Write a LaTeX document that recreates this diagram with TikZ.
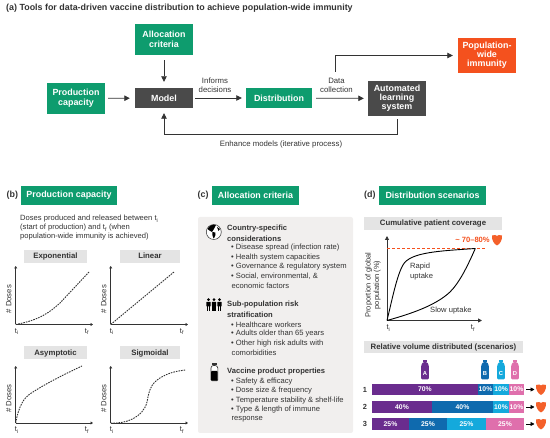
\documentclass[tikz,border=0pt]{standalone}
\usepackage{fontspec}
\setmainfont{Liberation Sans}
\usetikzlibrary{arrows.meta}
\definecolor{grn}{HTML}{0E9C6E}
\definecolor{drk}{HTML}{4A4A4A}
\definecolor{org}{HTML}{F4511E}
\definecolor{hdr}{HTML}{E4E4E4}
\definecolor{pnl}{HTML}{F1EFEE}
\definecolor{txt}{HTML}{333333}
\definecolor{pur}{HTML}{6A2C8E}
\definecolor{blu}{HTML}{0F6AAE}
\definecolor{cya}{HTML}{14A9DC}
\definecolor{pnk}{HTML}{DF6FAC}
\definecolor{shd}{HTML}{F4602A}
\newcommand{\fs}[1]{\fontsize{#1}{#1}\selectfont}
\newcommand{\sbs}[1]{\textsubscript{#1}}
\tikzset{
 box/.style={inner sep=0pt,align=center,text=white,font=\fs{8.9}\bfseries},
 grnbox/.style={box,fill=grn},
 drkbox/.style={box,fill=drk},
 orgbox/.style={box,fill=org},
 conn/.style={draw=txt,line width=0.8pt,-{Triangle[length=5.5pt,width=5.5pt]}},
 lbl/.style={inner sep=0pt,text=txt,font=\fs{7.8},align=center},
 tit/.style={inner sep=0pt,text=txt,font=\fs{8.9}\bfseries,anchor=west},
 hd/.style={fill=hdr,inner sep=0pt,text=txt,font=\fs{7.8}\bfseries,text height=5.8pt,text depth=1.6pt},
 ax/.style={draw=txt,line width=0.9pt,-{Triangle[length=2.5pt,width=3pt]}},
 dots/.style={draw=txt,line width=0.9pt,dash pattern=on 1.6pt off 1pt},
 tick/.style={inner sep=0pt,text=txt,font=\fs{7.6}},
 ylab/.style={inner sep=0pt,text=txt,font=\fs{7.7},rotate=90,align=center},
 cl/.style={inner sep=0pt,anchor=west,text=txt,font=\fs{7.6}},
 ch/.style={inner sep=0pt,anchor=west,text=txt,font=\fs{7.6}\bfseries},
 seg/.style={inner sep=0pt,text=white,font=\fs{6.8}\bfseries},
 shieldpic/.pic={\fill[shd] (-5,-4.5) .. controls (-2.5,-5.5) and (-1,-5) .. (0,-4) .. controls (1,-5) and (2.5,-5.5) .. (5,-4.5) .. controls (5.5,0) and (3,4) .. (0,5.5) .. controls (-3,4) and (-5.5,0) .. (-5,-4.5) -- cycle;},
 bottlepic/.pic={\fill[pic actions] (-2.4,-10) rectangle (2.4,-8);
   \fill[pic actions,rounded corners=1.2pt] (-2,-8) -- (-3.8,-5) -- (-3.8,9.5) -- (3.8,9.5) -- (3.8,-5) -- (2,-8) -- cycle;}
}
\begin{document}
\begin{tikzpicture}[x=1pt,y=-1pt]
\useasboundingbox (0,0) rectangle (550,438);
% ---------- panel a
\node[tit] (ta) at (6,8.5) {(a) Tools for data-driven vaccine distribution to achieve population-wide immunity};
\node[grnbox,minimum width=58pt,minimum height=31pt] (alloc) at (164,39.5) {Allocation\\[1pt]criteria};
\node[grnbox,minimum width=58pt,minimum height=31pt] (prod) at (76,98.5) {Production\\[1pt]capacity};
\node[drkbox,minimum width=58pt,minimum height=20pt] (model) at (164,98) {Model};
\node[grnbox,minimum width=66pt,minimum height=20pt] (dist) at (279,98) {Distribution};
\node[drkbox,minimum width=58pt,minimum height=35pt] (auto) at (397,98.5) {Automated\\learning\\system};
\node[orgbox,minimum width=58pt,minimum height=35pt] (pop) at (487,55.5) {Population-\\wide\\immunity};
\coordinate (dc) at (335,72);
\coordinate (lp) at (397,134.5);
\coordinate (lq) at (164,134.5);
\draw[conn,shorten <=3pt,shorten >=5pt] (prod) -- (model);
\draw[conn,shorten <=5pt,shorten >=6pt] (alloc) -- (model);
\draw[conn,shorten <=2pt,shorten >=4pt] (model) -- (dist);
\draw[conn,shorten <=4pt,shorten >=4pt] (dist) -- (auto);
\draw[conn,shorten >=5pt] (dc) |- (pop.west);
\draw[conn,shorten <=3pt,shorten >=5pt] (auto.south) -- (lp) -- (lq) -- (model.south);
\node[lbl] (inf) at (215,85.5) {Informs\\[1.5pt]decisions};
\node[lbl] (dat) at (336.5,85.5) {Data\\[1.5pt]collection};
\node[lbl] (enh) at (281,144.5) {Enhance models (iterative process)};
% ---------- panel b
\node[tit] (tb) at (6.5,195) {(b)};
\node[grnbox,minimum width=96pt,minimum height=19pt] (bb) at (69,195.5) {Production capacity};
\node[cl] (b1) at (20,219) {Doses produced and released between t\sbs{i}};
\node[cl] (b2) at (20,228) {(start of production) and t\sbs{f} (when};
\node[cl] (b3) at (20,237) {population-wide immunity is achieved)};
\node[hd,minimum width=63pt,minimum height=13pt] (h1) at (55.5,256.5) {Exponential};
\node[hd,minimum width=60pt,minimum height=13pt] (h2) at (150,256.5) {Linear};
\node[hd,minimum width=63pt,minimum height=13pt] (h3) at (55.5,353) {Asymptotic};
\node[hd,minimum width=60pt,minimum height=13pt] (h4) at (150,353) {Sigmoidal};
\foreach \nm/\xo/\xe/\yt/\yb/\xf in {p/15.7/93/266/324.5/87, q/110.7/188/266/324.5/182, r/15.7/93/366/423/87, s/110.7/188/366/423/182}{
  \coordinate (\nm o) at (\xo,\yb);
  \coordinate (\nm t) at (\xo,\yt);
  \coordinate (\nm e) at (\xe,\yb);
  \draw[ax] (\nm o) -- (\nm t);
  \draw[ax] (\nm o) -- (\nm e);
  \node[ylab] (\nm y) at (\xo-7,{(\yt+\yb)/2+4}) {\# Doses};
  \node[tick] (\nm i) at (\xo+1,\yb+7) {t\sbs{i}};
  \node[tick] (\nm f) at (\xf,\yb+7) {t\sbs{f}};
}
\draw[dots] (po) .. controls (40,320) and (50,312) .. (60,303) -- (89,272);
\draw[dots] (qo) -- (174,272);
\draw[dots] (ro) .. controls (19,405) and (24,397) .. (33,392) .. controls (45,384) and (65,374) .. (82,366);
\draw[dots] (so) .. controls (125,424) and (143,418) .. (147,402) .. controls (149,392) and (150,384) .. (160,378) .. controls (168,373) and (176,371) .. (186,370);
% ---------- panel c
\node[tit] (tc) at (197.5,195) {(c)};
\node[grnbox,minimum width=87pt,minimum height=19pt] (cb) at (255.5,195.5) {Allocation criteria};
\fill[pnl,rounded corners=2pt] (198,217) rectangle (353,433);
\node[ch] (c1) at (227,229) {Country-specific};
\node[ch] (c2) at (227,238.5) {considerations};
\node[cl] (c3) at (231,248) {• Disease spread (infection rate)};
\node[cl] (c4) at (231,257.5) {• Health system capacities};
\node[cl] (c5) at (231,267) {• Governance \& regulatory system};
\node[cl] (c6) at (231,276.5) {• Social, environmental, \&};
\node[cl] (c7) at (231.5,286) {economic factors};
\node[ch] (c8) at (227,305) {Sub-population risk};
\node[ch] (c9) at (227,315) {stratification};
\node[cl] (c10) at (231,324.5) {• Healthcare workers};
\node[cl] (c11) at (231,334) {• Adults older than 65 years};
\node[cl] (c12) at (231,343.5) {• Other high risk adults with};
\node[cl] (c13) at (231.5,353) {comorbidities};
\node[ch] (c14) at (227,372) {Vaccine product properties};
\node[cl] (c15) at (231,381.5) {• Safety \& efficacy};
\node[cl] (c16) at (231,391) {• Dose size \& frequency};
\node[cl] (c17) at (231,400.5) {• Temperature stability \& shelf-life};
\node[cl] (c18) at (231,410) {• Type \& length of immune};
\node[cl] (c19) at (231.5,419.5) {response};
% globe icon
\draw[txt,line width=0.5pt,fill=white] (213.8,232) circle (7.5);
\fill[black] (207.5,229) .. controls (209,225.5) and (213,224) .. (216,225) .. controls (215,228) and (213,230) .. (212,232) .. controls (210,231) and (208.5,230) .. (207.5,229) -- cycle;
\fill[black] (212.5,232) .. controls (215,231.5) and (216.5,233) .. (215.5,235) .. controls (215,237) and (214,238) .. (213.5,238.5) .. controls (212.5,236) and (212,234) .. (212.5,232) -- cycle;
\fill[black] (217,227) -- (220,229) -- (218.5,231) -- cycle;
% people icon
\foreach \px in {208.5,214,219.5}{
  \fill[black] (\px,299.6) circle (1.5);
  \fill[black,rounded corners=0.5pt] (\px-2.2,301.8) rectangle (\px+2.2,306.5);
  \fill[black] (\px-1.7,306) rectangle (\px-0.2,311);
  \fill[black] (\px+0.2,306) rectangle (\px+1.7,311);
}
% vaccine bottle icon
\fill[txt] (212,363.5) rectangle (216.5,365.5);
\draw[txt,line width=0.6pt,fill=white,rounded corners=1pt] (211,367) -- (212.5,365.5) -- (216,365.5) -- (217.8,367) -- (217.8,380.8) -- (211,380.8) -- cycle;
\fill[black,rounded corners=0.8pt] (211.2,371) rectangle (217.6,380.6);
% ---------- panel d
\node[tit] (td) at (364,195) {(d)};
\node[grnbox,minimum width=107pt,minimum height=19pt] (db) at (432.5,195.5) {Distribution scenarios};
\node[hd,minimum width=138pt,minimum height=13pt] (h5) at (433,223.5) {Cumulative patient coverage};
\coordinate (do) at (387,320.5);
\coordinate (dt) at (387,236);
\coordinate (de) at (482,320.5);
\coordinate (dk) at (475.3,248.5);
\draw[ax,-{Triangle[length=4pt,width=4pt]}] (do) -- (dt);
\draw[ax,-{Triangle[length=4pt,width=4pt]}] (do) -- (de);
\coordinate (ol) at (387,248.5);
\coordinate (or) at (485,248.5);
\draw[org,line width=0.7pt,dash pattern=on 3pt off 2pt] (ol) -- (or);
\draw[black,line width=0.9pt] (do) .. controls (392,300) and (397,275) .. (403,265) .. controls (410,252) and (440,251) .. (dk);
\draw[black,line width=0.9pt] (do) .. controls (410,314) and (435,306) .. (450,292) .. controls (460,282) and (468,265) .. (dk);
\node[inner sep=0pt,text=org,font=\fs{7.6}\bfseries] (pct) at (472.5,240) {\textasciitilde{} 70–80\%};
\pic at (497,240) {shieldpic};
\node[cl] (rp1) at (410,267) {Rapid};
\node[cl] (rp2) at (410,276.5) {uptake};
\node[cl] (sl) at (430,310.5) {Slow uptake};
\node[ylab,font=\fs{7.5}] (dy) at (373,285) {Proportion of global\\[1pt]population (\%)};
\node[tick] (di) at (388.5,328) {t\sbs{i}};
\node[tick] (df) at (473,328) {t\sbs{f}};
\node[hd,minimum width=159pt,minimum height=12.5pt] (h6) at (443.5,347) {Relative volume distributed (scenarios)};
\foreach \bx/\bc/\bl in {425/pur/A,485/blu/B,501/cya/C,515/pnk/D}{
  \pic[fill=\bc] at (\bx,370) {bottlepic};
  \node[inner sep=0pt,text=white,font=\fs{5.8}\bfseries] (bot\bl) at (\bx,373.5) {\bl};
}
\foreach \na/\xa/\xb/\yc/\cc/\tt in {
 a/372/477.7/389.5/pur/70\%, b/477.7/493.3/389.5/blu/10\%, c/493.3/509/389.5/cya/10\%, d/509/524/389.5/pnk/10\%,
 e/372/432/407/pur/40\%, f/432/493/407/blu/40\%, g/493/509/407/cya/10\%, h/509/524/407/pnk/10\%,
 i/372/409/424/pur/25\%, j/409/447/424/blu/25\%, k/447/486/424/cya/25\%, l/486/524/424/pnk/25\%}{
  \fill[\cc] (\xa,\yc-5.7) rectangle (\xb,\yc+5.7);
  \node[seg] (s\na) at ({(\xa+\xb)/2},\yc) {\tt};
}
\foreach \rw/\yc in {1/389.5,2/407,3/424}{
  \node[inner sep=0pt,text=txt,font=\fs{7.4}\bfseries] (row\rw) at (365,\yc) {\rw};
  \coordinate (ra\rw) at (526,\yc);
  \coordinate (rb\rw) at (534.5,\yc);
  \draw[draw=black,line width=0.7pt,-{Triangle[length=4pt,width=4pt]}] (ra\rw) -- (rb\rw);
  \pic at (541,\yc) {shieldpic};
}
\end{tikzpicture}
\end{document}
